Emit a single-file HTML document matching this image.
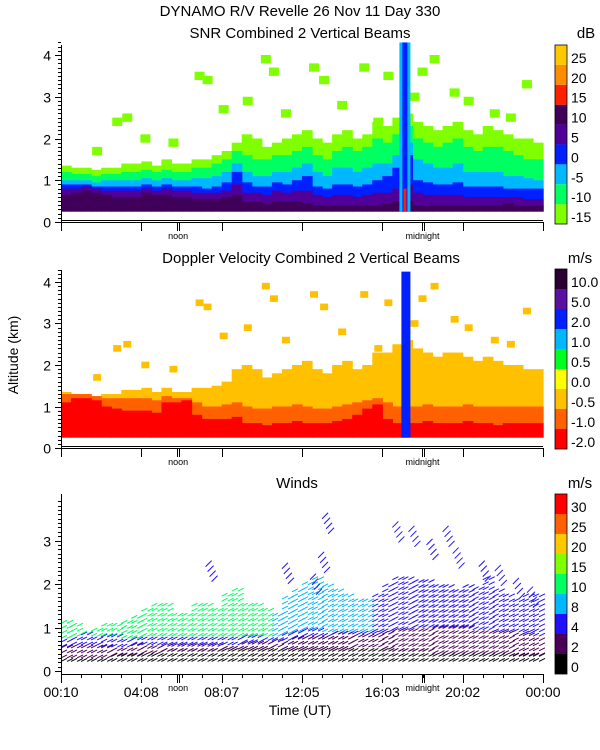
<!DOCTYPE html>
<html><head><meta charset="utf-8"><style>
body{margin:0;background:#fff;}
svg{display:block;font-family:"Liberation Sans",sans-serif;}
</style></head><body>
<svg id="c" width="600" height="750" viewBox="0 0 600 750">
<rect width="600" height="750" fill="#fff"/>
<text x="300" y="16" text-anchor="middle" font-size="15">DYNAMO R/V Revelle  26 Nov 11 Day 330</text>
<text x="300" y="38" text-anchor="middle" font-size="15">SNR Combined 2 Vertical Beams</text>
<text x="586" y="38" text-anchor="middle" font-size="15">dB</text>
<text x="311" y="263" text-anchor="middle" font-size="15">Doppler Velocity Combined 2 Vertical Beams</text>
<text x="580" y="263" text-anchor="middle" font-size="15">m/s</text>
<text x="297" y="488" text-anchor="middle" font-size="15">Winds</text>
<text x="580" y="488" text-anchor="middle" font-size="15">m/s</text>
<text x="300" y="715" text-anchor="middle" font-size="14">Time (UT)</text>
<text transform="translate(18,355) rotate(-90)" text-anchor="middle" font-size="14">Altitude (km)</text>
<g id="g"></g>
</svg>
<script>
// ---- data (per 30-min bin, 48 bins, altitudes in km) ----
const timeLabels=["00:10","04:08","08:07","12:05","16:03","20:02","00:00"];
const snrTop1=[0.65,0.7,0.75,0.7,0.65,0.6,0.6,0.6,0.7,0.65,0.65,0.6,0.6,0.55,0.55,0.55,0.6,0.65,0.5,0.5,0.45,0.5,0.5,0.5,0.45,0.4,0.4,0.4,0.4,0.4,0.4,0.4,0.45,0.5,0.5,0.4,0.4,0.4,0.4,0.4,0.4,0.4,0.4,0.4,0.45,0.4,0.4,0.4];
const snrTop2=[0.8,0.8,0.85,0.8,0.75,0.75,0.75,0.75,0.8,0.75,0.8,0.75,0.75,0.7,0.7,0.7,0.75,0.9,0.7,0.7,0.65,0.75,0.7,0.75,0.75,0.65,0.6,0.65,0.65,0.6,0.65,0.7,0.7,0.8,0.9,0.7,0.65,0.65,0.65,0.65,0.6,0.6,0.6,0.6,0.6,0.6,0.55,0.55];
const snrTop3=[0.9,0.9,0.9,0.85,0.85,0.85,0.85,0.85,0.9,0.85,0.9,0.85,0.85,0.85,0.8,0.85,0.95,1.2,0.95,0.85,0.85,0.95,0.9,1.0,1.1,0.85,0.8,0.9,0.9,0.85,0.9,1.0,1.1,1.3,1.6,1.0,0.95,0.9,0.9,0.95,0.85,0.85,0.85,0.85,0.8,0.8,0.8,0.8];
const snrTop4=[1.0,1.0,1.0,0.95,1.0,1.0,1.0,1.0,1.05,1.0,1.05,1.0,1.0,1.05,1.05,1.1,1.2,1.4,1.2,1.1,1.1,1.2,1.2,1.3,1.4,1.2,1.1,1.3,1.3,1.2,1.3,1.4,1.4,1.6,1.9,1.5,1.4,1.3,1.3,1.4,1.2,1.2,1.2,1.2,1.1,1.1,1.05,1.0];
const snrTop5=[1.2,1.15,1.15,1.1,1.15,1.15,1.2,1.2,1.25,1.2,1.25,1.2,1.2,1.3,1.3,1.4,1.5,1.7,1.6,1.5,1.5,1.6,1.6,1.7,1.8,1.6,1.5,1.7,1.8,1.7,1.8,2.0,1.9,2.1,2.3,2.0,1.9,1.8,1.9,2.0,1.8,1.7,1.8,1.8,1.7,1.6,1.5,1.5];
const snrTop6=[1.35,1.3,1.3,1.25,1.3,1.3,1.4,1.4,1.45,1.35,1.5,1.4,1.4,1.5,1.5,1.6,1.7,1.9,2.1,2.0,1.8,1.9,2.0,2.1,2.2,2.0,1.9,2.1,2.2,2.0,2.1,2.4,2.3,2.5,2.6,2.4,2.3,2.2,2.3,2.4,2.2,2.1,2.3,2.2,2.1,2.0,2.0,1.9];
const patchHour=[1.8,2.8,3.3,4.2,5.6,6.9,7.3,8.1,9.3,10.6,11.2,12.6,13.1,14.0,15.1,15.8,16.3,18.0,18.6,19.6,20.3,21.6,22.4,23.2,17.6,10.2];
const patchAlt=[1.7,2.4,2.5,2.0,1.9,3.5,3.4,2.7,2.9,3.6,2.6,3.7,3.4,2.8,3.7,2.4,3.5,3.6,3.9,3.1,2.9,2.6,2.5,3.3,3.0,3.9];
const dopRedTop=[1.1,1.2,1.2,1.15,1.0,0.95,0.9,0.9,0.9,0.85,1.1,1.1,1.15,0.8,0.7,0.7,0.7,0.75,0.6,0.6,0.55,0.6,0.6,0.65,0.6,0.6,0.6,0.65,0.7,0.8,0.95,1.05,0.7,0.6,0.6,0.6,0.65,0.6,0.6,0.6,0.65,0.6,0.6,0.55,0.6,0.6,0.6,0.6];
const dopOrangeTop=[1.3,1.3,1.3,1.25,1.2,1.2,1.2,1.2,1.2,1.15,1.25,1.2,1.2,1.1,1.0,1.0,1.05,1.1,1.0,0.95,0.95,1.0,1.0,1.05,1.0,0.95,0.95,1.0,1.05,1.1,1.15,1.2,1.1,1.0,1.0,1.0,1.05,1.0,1.0,1.0,1.05,1.0,1.0,1.0,1.0,1.0,1.0,1.0];
const dopEchoTop=[1.35,1.3,1.3,1.25,1.3,1.3,1.4,1.4,1.45,1.35,1.45,1.35,1.35,1.45,1.45,1.5,1.6,1.9,2.0,1.9,1.7,1.8,1.9,2.0,2.1,1.9,1.8,2.0,2.1,1.9,2.0,2.3,2.3,2.5,2.6,2.4,2.3,2.2,2.3,2.3,2.2,2.1,2.2,2.1,2.0,2.0,1.9,1.9];
const windBlackTop=[0.3,0.3,0.3,0.3,0.3,0.35,0.35,0.35,0.4,0.4,0.45,0.45,0.45,0.45,0.45,0.45,0.5,0.5,0.5,0.5,0.5,0.55,0.5,0.5,0.5,0.5,0.5,0.5,0.5,0.55,0.55,0.55,0.5,0.45,0.45,0.45,0.45,0.4,0.4,0.4,0.4,0.4,0.4,0.4,0.4,0.35,0.35,0.35];
const windPurpleTop=[0.55,0.6,0.6,0.6,0.55,0.55,0.55,0.6,0.6,0.6,0.6,0.6,0.6,0.6,0.6,0.6,0.6,0.6,0.65,0.65,0.7,0.7,0.7,0.75,0.8,0.8,0.8,0.85,0.85,0.85,0.85,0.85,0.9,0.95,0.95,1.0,1.0,1.0,1.0,1.0,1.0,0.95,0.95,0.9,0.9,0.9,0.85,0.8];
const windBlueTop=[0.75,0.8,0.85,0.8,0.8,0.8,0.75,0.75,0.8,0.8,0.8,0.8,0.8,0.8,0.8,0.8,0.8,0.8,0.8,0.8,0.8,0.8,0.85,0.9,0.95,0.95,0.9,0.9,0.9,0.9,0.9,0.9,0.9,0.9,0.9,0.9,0.9,0.9,0.9,0.9,0.9,0.9,0.9,0.9,0.9,0.9,0.9,0.9];
const windUpperTop=[1.2,1.1,0.9,1.0,1.1,1.1,1.2,1.3,1.4,1.5,1.5,1.3,1.3,1.5,1.5,1.4,1.8,1.9,1.5,1.6,1.4,1.3,1.7,1.9,2.0,2.1,2.0,1.9,1.8,1.7,1.6,1.8,2.0,2.1,2.2,2.1,2.1,2.0,2.0,1.9,2.0,1.9,2.2,1.9,1.8,1.7,1.8,1.8];
const windUpperCat=["g","g","g","g","g","g","g","g","g","g","g","g","g","g","g","g","g","g","g","g","g","c","c","c","c","c","c","c","c","c","c","b","b","b","b","b","b","b","b","b","b","b","b","b","b","b","b","b"];
const windHighHour=[7.2,11.0,12.8,12.4,13.0,16.5,17.3,18.2,19.0,19.5,20.8,21.6,22.5,23.2];
const windHighAlt=[2.4,2.35,2.6,2.1,3.5,3.3,3.2,2.9,3.2,2.7,2.4,2.3,2.0,1.8];
const snrColors=["#80ff00","#00ff60","#00b8ff","#0020ff","#500098","#40005a","#ff2000","#ff8c00","#ffc800"];
const snrLabels=["-15","-10","-5","0","5","10","15","20","25"];
const dopColors=["#ff0000","#ff6000","#ffc000","#ffff00","#00ff20","#00b8ff","#0020ff","#5a10a0","#2a0030"];
const dopLabels=["-2.0","-1.0","-0.5","0.0","0.5","1.0","2.0","5.0","10.0"];
const windColors=["#000000","#4a0058","#2010ff","#00b8ff","#00ff60","#80ff00","#ffc800","#ff6000","#ff0000"];
const windLabels=["0","2","4","8","10","15","20","25","30"];
const noonHour=5.83, midnightHour=18.0, spikeHour=16.9;

const NS="http://www.w3.org/2000/svg";
const G=document.getElementById('g');
function mk(tag,attrs,parent){const e=document.createElementNS(NS,tag);for(const k in attrs)e.setAttribute(k,attrs[k]);(parent||G).appendChild(e);return e;}
const X0=61,X1=543;
function xHour(h){return X0+(X1-X0)*h/24;}
const panels=[{y0:222,s:41.75,top:45,max:4.3,ax:222},{y0:448,s:41.5,top:270,max:4.3,ax:448},{y0:671,s:43.5,top:494,max:3.9,ax:674}];
function yAlt(p,a){return p.y0-a*p.s;}
const nb=48,bw=(X1-X0)/nb;

// ---- SNR panel ----
const p1=panels[0];
const g1=mk('g',{});


const snrLayers=[[snrTop6,snrColors[0]],[snrTop5,snrColors[1]],[snrTop4,snrColors[2]],[snrTop3,snrColors[3]],[snrTop2,snrColors[4]],[snrTop1,snrColors[5]]];
for(const [arr,col] of snrLayers){
  for(let i=0;i<nb;i++){
    const y=yAlt(p1,arr[i]),yb=yAlt(p1,0.25);
    const r=mk('rect',{x:X0+i*bw,y:y,width:bw+0.6,height:yb-y,fill:col},g1);
    
    
  }
}
for(let i=0;i<patchHour.length;i++){
  const r=mk('rect',{x:xHour(patchHour[i])-5,y:yAlt(p1,patchAlt[i]+0.1),width:10,height:0.2*p1.s,fill:snrColors[0]},g1);
  
  
}
const sx=xHour(spikeHour);
mk('rect',{x:sx-1,y:yAlt(p1,4.3),width:11,height:yAlt(p1,0.25)-yAlt(p1,4.3),fill:snrColors[2]},g1);
mk('rect',{x:sx+2,y:yAlt(p1,4.3),width:5,height:yAlt(p1,0.25)-yAlt(p1,4.3),fill:snrColors[3]},g1);
mk('rect',{x:sx+3,y:yAlt(p1,0.8),width:3,height:yAlt(p1,0.25)-yAlt(p1,0.8),fill:snrColors[6]},g1);

// ---- Doppler panel ----
const p2=panels[1];
const g2=mk('g',{});


const dopLayers=[[dopEchoTop,dopColors[2]],[dopOrangeTop,dopColors[1]],[dopRedTop,dopColors[0]]];
for(const [arr,col] of dopLayers){
  for(let i=0;i<nb;i++){
    const y=yAlt(p2,arr[i]),yb=yAlt(p2,0.25);
    const r=mk('rect',{x:X0+i*bw,y:y,width:bw+0.6,height:yb-y,fill:col},g2);
    
    
  }
}
for(let i=0;i<patchHour.length;i++){
  const r=mk('rect',{x:xHour(patchHour[i])-4,y:yAlt(p2,patchAlt[i]+0.08),width:8,height:0.16*p2.s,fill:dopColors[2]},g2);
  
  
}
mk('rect',{x:sx+1,y:yAlt(p2,4.25),width:9,height:yAlt(p2,0.25)-yAlt(p2,4.25),fill:dopColors[6]},g2);

// ---- Winds panel ----
const p3=panels[2];
const g3=mk('g',{});


const catCol={g:windColors[4],c:windColors[3],b:windColors[2]};
function hatch(x0,x1,yTop,yBot,col){
  for(let y=yBot;y>yTop;y-=5){
    for(let x=x0;x<x1;x+=6){
      mk('line',{x1:x,y1:y,x2:x+6,y2:y-3,stroke:col,'stroke-width':1},g3);
    }
  }
}
for(let i=0;i<nb;i++){
  const xa=X0+i*bw,xb=xa+bw;
  hatch(xa,xb,yAlt(p3,windBlackTop[i]),yAlt(p3,0.22),windColors[0]);
  hatch(xa,xb,yAlt(p3,windPurpleTop[i]),yAlt(p3,windBlackTop[i]),windColors[1]);
  hatch(xa,xb,yAlt(p3,Math.max(windBlueTop[i],windPurpleTop[i])),yAlt(p3,windPurpleTop[i]),windColors[2]);
  if(windUpperTop[i]>windBlueTop[i]) hatch(xa,xb,yAlt(p3,windUpperTop[i]),yAlt(p3,Math.max(windBlueTop[i],windPurpleTop[i])),catCol[windUpperCat[i]]);
}
for(let i=0;i<windHighHour.length;i++){
  const x=xHour(windHighHour[i]),y=yAlt(p3,windHighAlt[i]);
  for(let k=0;k<4;k++){
    const l=mk('line',{x1:x+k*2,y1:y+k*5,x2:x+k*2+6,y2:y+k*5-6,stroke:windColors[2],'stroke-width':1},g3);
    
    
  }
}

// ---- axes ----
panels.forEach((p,pi)=>{
  const ax=mk('g',{'shape-rendering':'crispEdges'});
  
  
  mk('line',{x1:X0+0.5,y1:p.top,x2:X0+0.5,y2:p.ax,stroke:'#000'},ax);
  mk('line',{x1:X0,y1:p.ax+0.5,x2:X1,y2:p.ax+0.5,stroke:'#000'},ax);
  if(pi<2) mk('line',{x1:X0,y1:p.ax-1.5,x2:X1,y2:p.ax-1.5,stroke:'#000'},ax);
  for(let a=0;a<=p.max+1e-6;a+=0.1){
    const y=Math.round(yAlt(p,a))+0.5,maj=Math.abs(a-Math.round(a))<1e-6;
    mk('line',{x1:X0-(maj?6:3),y1:y,x2:X0,y2:y,stroke:'#000'},ax);
    if(maj){const t=mk('text',{x:X0-10,y:y+5,'text-anchor':'end','font-size':14},ax);t.textContent=Math.round(a);
      
      }
  }
  for(let h=0;h<=24;h+=(pi==2?1:4)){
    const x=Math.round(xHour(h))+0.5,maj=h%4==0;
    mk('line',{x1:x,y1:p.ax,x2:x,y2:p.ax+(maj?9:4),stroke:'#000'},ax);
  }
  [noonHour,midnightHour].forEach(h=>{const x=Math.round(xHour(h))+0.5;
    mk('line',{x1:x-1,y1:p.ax,x2:x-1,y2:p.ax+9,stroke:'#000'},ax);
    mk('line',{x1:x+1,y1:p.ax,x2:x+1,y2:p.ax+9,stroke:'#000'},ax);});
  const tn=mk('text',{x:xHour(noonHour),y:p.ax+17,'text-anchor':'middle','font-size':9},ax);tn.textContent='noon';
  const tm=mk('text',{x:xHour(midnightHour),y:p.ax+17,'text-anchor':'middle','font-size':9},ax);tm.textContent='midnight';
});
// time labels
timeLabels.forEach((s,i)=>{
  const t=mk('text',{x:xHour(i*4),y:697,'text-anchor':'middle','font-size':14});
  t.textContent=s;
  
  
});

// ---- colorbars ----
function colorbar(cols,labs,yTop,yBot,name){
  const g=mk('g',{});
  
  
  const h=(yBot-yTop)/cols.length;
  cols.forEach((c,i)=>{
    const y=yBot-(i+1)*h;
    mk('rect',{x:555,y:y,width:12,height:h,fill:c},g);
    const t=mk('text',{x:571,y:y+h*0.5+8,'font-size':14},g);
    t.textContent=labs[i];
  });
  mk('rect',{x:555,y:yTop,width:12,height:yBot-yTop,fill:'none',stroke:'#000','stroke-width':0.8},g);
}
colorbar(snrColors,snrLabels,45,224,'snr-colorbar');
colorbar(dopColors,dopLabels,269,449,'doppler-colorbar');
colorbar(windColors,windLabels,494,674,'winds-colorbar');
</script>
</body></html>
